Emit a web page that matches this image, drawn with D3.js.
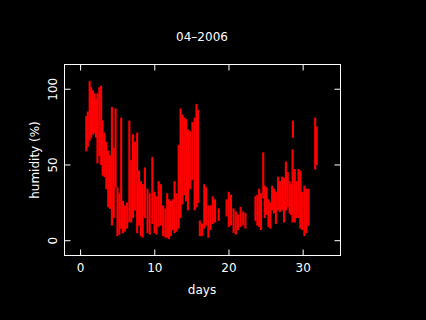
<!DOCTYPE html>
<html lang="en">
<head>
    <meta charset="utf-8">
    <title>04-2006 humidity</title>
    <style>
        body { margin: 0; background: #000; }
        text { fill: #fff; font: 12px "DejaVu Sans", sans-serif; }
        .axis path, .axis line { stroke: #fff; }
    </style>
    <script src="https://cdn.jsdelivr.net/npm/d3@7"></script>
</head>
<body>
    <svg width="426" height="320"></svg>
    <script>
        // humidity readings, grouped as vertical runs (day, lowest and highest value in the run)
        const days = [0.9, 1.1, 1.35, 1.55, 1.8, 2.0, 2.2, 2.4, 2.65, 2.9,
            3.1, 3.35, 3.6, 3.85, 4.1, 4.35, 4.6, 4.85, 5.1, 5.35,
            5.6, 5.85, 6.1, 6.4, 6.7, 6.95, 7.2, 7.45, 7.75, 8.0,
            8.25, 8.5, 8.8, 9.15, 9.45, 9.8, 10.1, 10.35, 10.65, 10.95,
            11.25, 11.55, 11.8, 12.05, 12.3, 12.55, 12.8, 13.05, 13.35, 13.6,
            13.85, 14.1, 14.35, 14.6, 14.9, 15.2, 15.5, 15.75, 15.95, 16.2,
            16.5, 16.8, 17.05, 17.35, 17.65, 17.95, 18.25, 18.75, 19.8, 20.1,
            20.4, 20.75, 21.05, 21.35, 21.7, 22.05, 22.35, 23.7, 23.95, 24.2,
            24.45, 24.75, 24.95, 25.2, 25.45, 25.7, 25.95, 26.2, 26.45, 26.75,
            27.0, 27.3, 27.55, 27.8, 28.05, 28.3, 28.5, 28.7, 28.75, 29.0,
            29.25, 29.5, 29.75, 30.0, 30.3, 30.55, 30.85, 31.75, 31.95];
        const lowHumidity = [59, 62, 66, 68, 70, 71, 68, 51, 56, 50,
            43, 42, 34, 22, 21, 10, 15, 35, 3, 4,
            8, 5, 6, 8, 12, 12, 15, 20, 5, 10,
            3, 2, 15, 5, 4, 11, 5, 4, 9, 10,
            3, 2, 2, 1, 3, 7, 5, 6, 8, 15,
            24, 30, 26, 20, 34, 40, 20, 22, 25, 3,
            3, 8, 10, 2, 7, 11, 12, 13, 16, 9,
            10, 5, 4, 7, 9, 10, 8, 13, 10, 9,
            7, 28, 15, 17, 9, 8, 20, 18, 11, 20,
            19, 20, 12, 20, 22, 18, 17, 12, 68, 12,
            15, 15, 8, 7, 3, 5, 10, 47, 50];
        const highHumidity = [81, 84, 104, 100, 98, 96, 92, 96, 100, 101,
            78, 70, 64, 58, 55, 87, 60, 86, 34, 30,
            80, 25, 22, 24, 78, 52, 69, 64, 70, 45,
            38, 36, 47, 33, 30, 54, 31, 28, 38, 36,
            22, 20, 30, 26, 25, 26, 38, 30, 62, 86,
            82, 80, 79, 72, 71, 77, 80, 89, 85, 12,
            10, 36, 34, 22, 22, 28, 26, 20, 26, 31,
            29, 20, 18, 16, 21, 18, 17, 28, 29, 33,
            30, 57, 35, 34, 26, 24, 35, 33, 31, 41,
            38, 41, 40, 51, 44, 38, 36, 59, 78, 46,
            38, 46, 45, 31, 35, 33, 33, 80, 74];

        const xTicks = [0, 10, 20, 30];
        const yTicks = [0, 50, 100];

        const svg = d3.select("svg");
        const pLeft = 64, pRight = 340, pTop = 64, pBottom = 255;

        const x = d3.scaleLinear().domain([-2.1, 35.1]).range([pLeft, pRight]);
        const y = d3.scaleLinear().domain([-10.1, 116]).range([pBottom, pTop]);

        // the readings
        svg.append("g")
            .selectAll("rect")
            .data(days)
            .join("rect")
            .attr("x", d => x(d) - 1)
            .attr("width", 2.1)
            .attr("y", (d, i) => y(highHumidity[i]) - 1)
            .attr("height", (d, i) => y(lowHumidity[i]) - y(highHumidity[i]) + 2)
            .attr("fill", "#ff0000");

        // frame with inward ticks on all four sides
        svg.append("rect")
            .attr("x", pLeft + 0.5).attr("y", pTop + 0.5)
            .attr("width", pRight - pLeft).attr("height", pBottom - pTop)
            .attr("fill", "none").attr("stroke", "#fff");

        svg.append("g").attr("class", "axis")
            .attr("transform", `translate(0.5,${pBottom + 0.5})`)
            .call(d3.axisBottom(x).tickValues(xTicks).tickSize(-6).tickSizeOuter(0).tickPadding(8))
            .call(g => g.select(".domain").remove());

        svg.append("g").attr("class", "axis")
            .attr("transform", `translate(0.5,${pTop + 0.5})`)
            .call(d3.axisTop(x).tickValues(xTicks).tickSize(-6).tickSizeOuter(0).tickFormat(""))
            .call(g => g.select(".domain").remove());

        svg.append("g").attr("class", "axis")
            .attr("transform", `translate(${pLeft + 0.5},0.5)`)
            .call(d3.axisLeft(y).tickValues(yTicks).tickSize(-6).tickSizeOuter(0))
            .call(g => g.select(".domain").remove())
            .selectAll("text")
            .attr("transform", "rotate(-90)")
            .attr("x", 0).attr("y", -8).attr("dy", 0)
            .attr("text-anchor", "middle");

        svg.append("g").attr("class", "axis")
            .attr("transform", `translate(${pRight + 0.5},0.5)`)
            .call(d3.axisRight(y).tickValues(yTicks).tickSize(-6).tickSizeOuter(0).tickFormat(""))
            .call(g => g.select(".domain").remove());

        svg.selectAll(".axis").attr("font-family", null).attr("font-size", null);

        // labels
        svg.append("text")
            .attr("x", (pLeft + pRight) / 2).attr("y", 41)
            .attr("text-anchor", "middle")
            .text("04\u20132006");

        svg.append("text")
            .attr("x", (pLeft + pRight) / 2).attr("y", 294)
            .attr("text-anchor", "middle")
            .text("days");

        svg.append("text")
            .attr("transform", "translate(39,160) rotate(-90)")
            .attr("text-anchor", "middle")
            .text("humidity (%)");
    </script>
</body>
</html>
